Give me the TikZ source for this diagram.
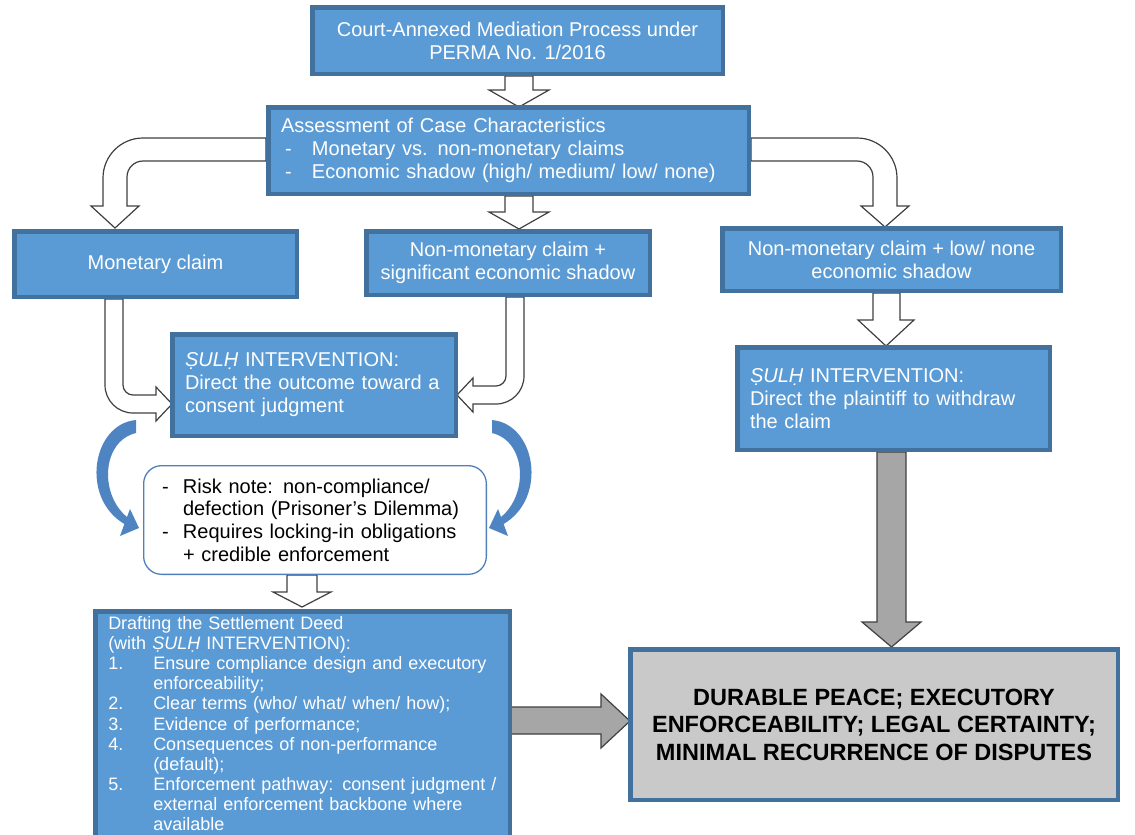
\documentclass[tikz,border=0pt]{standalone}
\usepackage{fontspec}
\setmainfont{Liberation Sans}
\usetikzlibrary{backgrounds}
\newcommand\fz[2]{\fontsize{#1}{#2}\selectfont}
\definecolor{boxblue}{RGB}{91,155,213}
\definecolor{bdr}{RGB}{65,113,156}
\definecolor{arrgray}{RGB}{166,166,166}
\definecolor{finalgray}{RGB}{201,201,201}
\definecolor{curveblue}{RGB}{78,132,194}
\definecolor{riskbdr}{RGB}{80,128,188}
\tikzset{
  bbox/.style={draw=bdr, line width=4.5pt, fill=boxblue, text=white, font=\fz{20}{23}, inner sep=0pt, align=center},
  lbox/.style={bbox, align=left, inner xsep=12.75pt},
  warrow/.style={draw=black!75, line width=1.2pt, fill=white, line join=miter},
  garrow/.style={draw=black!75, line width=1.2pt, fill=arrgray, line join=miter},
  carrow/.style={fill=curveblue, draw=none},
  riskbox/.style={draw=riskbdr, line width=1.3pt, fill=white, rounded corners=18pt, text=black, font=\fz{20}{22.7}, align=left, inner xsep=18.35pt, inner ysep=0pt},
  finalbox/.style={draw=bdr, line width=4.5pt, fill=finalgray, text=black, font=\bfseries\fz{23.5}{27.5}, align=center, inner sep=0pt}
}
\begin{document}
\begin{tikzpicture}[x=1pt,y=-1pt]
\useasboundingbox (0,0) rectangle (1135,835);
\clip (0,0) rectangle (1135,835);

% boxes
\node[bbox, minimum width=410.5pt, minimum height=66.5pt] (top) at (517.5,40.5)
  {Court-Annexed Mediation Process under\\PERMA No. 1/2016};
\node[lbox, minimum height=86.5pt, text width=455pt] (assess) at (508.5,150.5)
  {Assessment of Case Characteristics\\
   \hspace*{4pt}\makebox[27pt][l]{-}Monetary vs. non-monetary claims\\
   \hspace*{4pt}\makebox[27pt][l]{-}Economic shadow (high/ medium/ low/ none)};
\node[bbox, minimum width=282.5pt, minimum height=65.5pt] (mon) at (155.5,264) {Monetary claim};
\node[bbox, minimum width=283.5pt, minimum height=63.5pt] (mid) at (508,263)
  {Non-monetary claim +\\significant economic shadow};
\node[bbox, minimum width=338.5pt, minimum height=62.5pt] (right) at (891.5,259.5)
  {Non-monetary claim + low/ none\\economic shadow};
\node[lbox, minimum height=101.5pt, text width=258pt] (sulhL) at (314,385)
  {{\itshape ṢULḤ} INTERVENTION:\\Direct the outcome toward a\\consent judgment};
\node[lbox, minimum height=102.5pt, text width=287pt] (sulhR) at (893.5,398.5)
  {{\itshape ṢULḤ} INTERVENTION:\\Direct the plaintiff to withdraw\\the claim};
\node[riskbox, minimum height=108.7pt, text width=306pt] (risk) at (315,520)
  {\makebox[21pt][l]{-}Risk note: non-compliance/\\
   \hspace*{21pt}defection (Prisoner’s Dilemma)\\
   \makebox[21pt][l]{-}Requires locking-in obligations\\
   \hspace*{21pt}+ credible enforcement};
\node[bbox, align=left, font=\fz{18}{20.1}, anchor=north west, inner xsep=12.75pt, inner ysep=5pt, text width=389pt] (draft) at (93.25,609.25)
  {Drafting the Settlement Deed\\
   (with {\itshape ṢULḤ} INTERVENTION):\\
   \makebox[45pt][l]{1.}Ensure compliance design and executory\\
   \hspace*{45pt}enforceability;\\
   \makebox[45pt][l]{2.}Clear terms (who/ what/ when/ how);\\
   \makebox[45pt][l]{3.}Evidence of performance;\\
   \makebox[45pt][l]{4.}Consequences of non-performance\\
   \hspace*{45pt}(default);\\
   \makebox[45pt][l]{5.}Enforcement pathway: consent judgment /\\
   \hspace*{45pt}external enforcement backbone where\\
   \hspace*{45pt}available\\[6pt]\mbox{}};
\node[finalbox, minimum width=487.5pt, minimum height=150.5pt] (final) at (874,724.5)
  {DURABLE PEACE; EXECUTORY\\ENFORCEABILITY; LEGAL CERTAINTY;\\MINIMAL RECURRENCE OF DISPUTES};

\begin{scope}[on background layer]
% top -> assess
\draw[warrow] (505,76) -- (505,90) -- (489,90) -- (519,107) -- (549,90) -- (533,90) -- (533,76) -- cycle;
% assess -> mid
\draw[warrow] (505,196) -- (505,212) -- (489,212) -- (519,229) -- (549,212) -- (533,212) -- (533,196) -- cycle;
% assess -> mon (elbow)
\draw[warrow] (266,138) -- (143,138) .. controls (120.9,138) and (103,155.9) .. (103,178) -- (103,206)
  -- (91,206) -- (115,228) -- (139,206) -- (127,206) -- (127,177)
  .. controls (127,168.2) and (134.2,161) .. (143,161) -- (266,161) -- cycle;
% assess -> right (elbow)
\draw[warrow] (751,138) -- (857,138) .. controls (879.1,138) and (897,155.9) .. (897,178) -- (897,206)
  -- (909,206) -- (885,227) -- (861,206) -- (873,206) -- (873,177)
  .. controls (873,168.2) and (865.8,161) .. (857,161) -- (751,161) -- cycle;
% mon -> sulhL
\draw[warrow] (105,299) -- (105,385) .. controls (105,400.5) and (117.5,413) .. (133,413) -- (156,413)
  -- (156,421) -- (172,404) -- (156,387) -- (156,395) -- (133,395)
  .. controls (127.5,395) and (123,390.5) .. (123,385) -- (123,299) -- cycle;
% mid -> sulhL
\draw[warrow] (506,297) -- (506,376) .. controls (506,381.5) and (501.5,386) .. (496,386) -- (473,386)
  -- (473,378) -- (457,395) -- (473,412) -- (473,404) -- (496,404)
  .. controls (511.5,404) and (524,391.5) .. (524,376) -- (524,297) -- cycle;
% right -> sulhR
\draw[warrow] (873,293) -- (873,320) -- (858,320) -- (886,346) -- (914,320) -- (900,320) -- (900,293) -- cycle;
% risk -> draft
\draw[warrow] (287,575) -- (287,592) -- (273,592) -- (302,607) -- (331,592) -- (317,592) -- (317,575) -- cycle;
% sulhR -> final
\draw[garrow] (877,452) -- (877,622) -- (862,622) -- (891.5,647) -- (921,622) -- (906,622) -- (906,452) -- cycle;
% draft -> final
\draw[garrow] (510,707) -- (601,707) -- (601,694) -- (630,721) -- (601,748) -- (601,734) -- (510,734) -- cycle;
\end{scope}

% curved blue arrows
\fill[carrow] (136,420) .. controls (92,424) and (80,498) .. (124.4,524)
  -- (120,536) -- (139,528) -- (130,509) -- (127,517)
  .. controls (99,494) and (102,441) .. (136,433) -- cycle;
\fill[carrow] (492,420) .. controls (536,424) and (548,498) .. (503.6,524)
  -- (508,536) -- (489,528) -- (498,509) -- (501,517)
  .. controls (529,494) and (526,441) .. (492,433) -- cycle;
\end{tikzpicture}
\end{document}
